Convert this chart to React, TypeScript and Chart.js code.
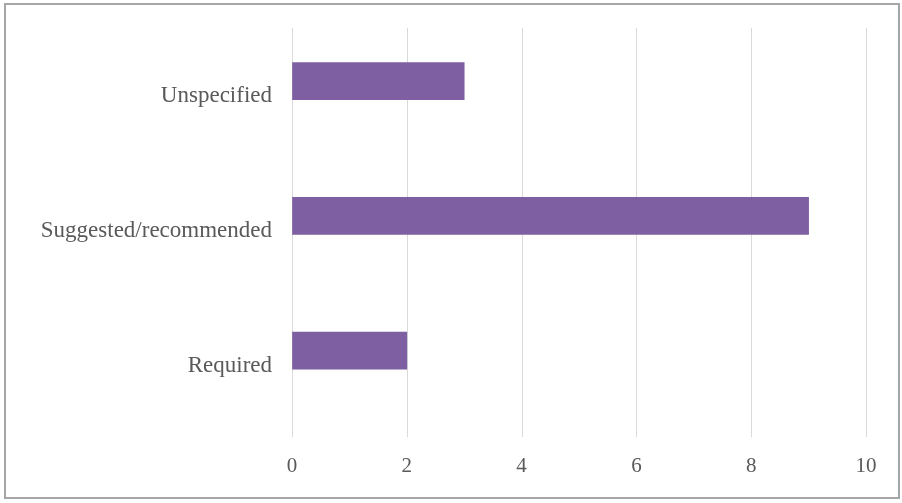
import React, { useEffect, useRef } from "react";
import { Chart, registerables } from "chart.js";

Chart.register(...registerables);

const categories = ["Unspecified", "Suggested/recommended", "Required"];
const values = [3, 9, 2];
const xTicks = [0, 2, 4, 6, 8, 10];

const gridPlugin = {
  id: "extGrid",
  beforeDatasetsDraw(chart: any) {
    const { ctx, scales, chartArea } = chart;
    const x = scales.x;
    ctx.save();
    ctx.strokeStyle = "#d9d9d9";
    ctx.lineWidth = 1;
    x.ticks.forEach((_t: any, i: number) => {
      const px = Math.round(x.getPixelForTick(i)) + 0.5;
      ctx.beginPath();
      ctx.moveTo(px, chartArea.top + 14);
      ctx.lineTo(px, chartArea.bottom + 19);
      ctx.stroke();
    });
    ctx.restore();
  },
};

export default function App() {
  const ref = useRef<HTMLCanvasElement>(null);
  useEffect(() => {
    document.body.style.margin = "0";
    const chart = new Chart(ref.current!, {
      type: "bar",
      data: {
        labels: categories,
        datasets: [
          {
            data: values,
            backgroundColor: "#7d5fa2",
            barThickness: 37,
          },
        ],
      },
      options: {
        indexAxis: "y",
        animation: false,
        responsive: false,
        maintainAspectRatio: false,
        layout: { padding: { left: 0, right: 36, top: 13, bottom: 0 } },
        plugins: { legend: { display: false }, tooltip: { enabled: false } },
        scales: {
          x: {
            min: 0,
            max: 10,
            afterBuildTicks: (s: any) => {
              s.ticks = xTicks.map((v) => ({ value: v }));
            },
            grid: {
              display: true,
              drawOnChartArea: false,
              drawTicks: true,
              tickLength: 36,
              color: "rgba(0,0,0,0)",
            },
            border: { display: false },
            ticks: {
              padding: 0,
              color: "#595959",
              font: { family: "Liberation Serif", size: 21 },
            },
            afterFit: (s: any) => {
              s.height = 85;
            },
          },
          y: {
            grid: {
              display: true,
              drawOnChartArea: false,
              drawTicks: true,
              tickLength: 20,
              color: "rgba(0,0,0,0)",
            },
            border: { display: false },
            ticks: {
              padding: 0,
              labelOffset: 15,
              color: "#595959",
              font: { family: "Liberation Serif", size: 23 },
            },
            afterFit: (s: any) => {
              s.width = 292;
            },
          },
        },
      },
      plugins: [gridPlugin],
    });
    return () => chart.destroy();
  }, []);
  return (
    <div style={{ position: "relative", width: 902, height: 503, background: "#fff" }}>
      <canvas ref={ref} width={902} height={503} style={{ position: "absolute", left: 0, top: 0 }} />
      <div
        style={{
          position: "absolute",
          left: 4,
          top: 3,
          width: 892,
          height: 492,
          border: "2px solid #a6a6a6",
          pointerEvents: "none",
        }}
      />
    </div>
  );
}
